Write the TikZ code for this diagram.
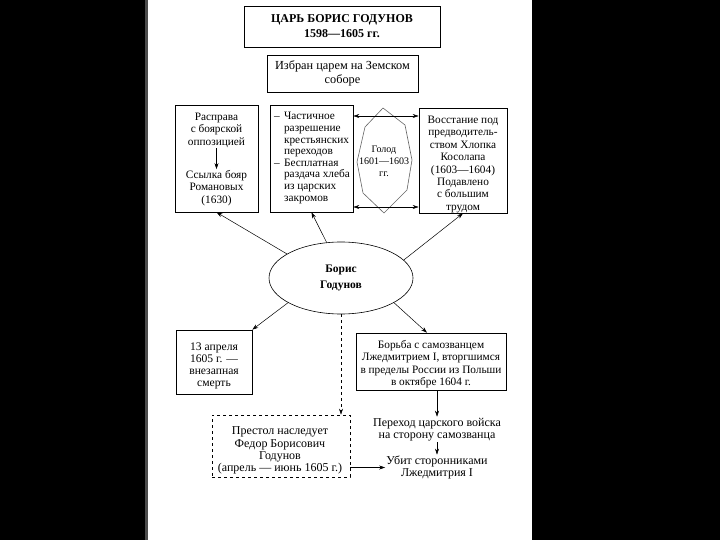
\documentclass[tikz,border=0pt]{standalone}
\usepackage{fontspec}
\setmainfont{Liberation Serif}
\usetikzlibrary{arrows.meta,shapes.geometric,calc}

\tikzset{
  box/.style={draw, line width=0.6pt, align=center, inner sep=2pt},
  tip/.style={-{Stealth[length=6pt,width=4pt]}, line width=0.5pt},
  twotip/.style={{Stealth[length=6pt,width=4pt]}-{Stealth[length=6pt,width=4pt]}, line width=0.5pt},
  txt/.style={align=center, inner sep=1pt},
}
\newcommand{\dashitem}{\makebox[11pt][l]{\kern1pt–}}
\newcommand{\hangitem}{\hspace*{11pt}}

\begin{document}
\begin{tikzpicture}[x=1pt, y=-1pt, font=\fontsize{11.3}{12.4}\selectfont]
    \useasboundingbox (0,0) rectangle (720,540);
    % Slide frame
    \fill[black] (0,0) rectangle (720,540);
    \fill[black!70] (145,0) rectangle (148,540);
    \fill[white] (148,0) rectangle (532,540);

    % Row 1: title and election
    \node[box, minimum width=196, minimum height=41, font=\fontsize{12}{15}\selectfont\bfseries] (title) at (342,26.5) {ЦАРЬ БОРИС ГОДУНОВ\\1598—1605 гг.};
    \node[box, minimum width=151, minimum height=37, font=\fontsize{12.3}{14}\selectfont] (elected) at (342.5,73.5) {Избран царем на Земском\\соборе};

    % Row 2: policy boxes
    \node[box, minimum width=83, minimum height=107] (repress) at (216.5,158.5) {};
    \node[txt] (purge) at (216.5,130) {Расправа\\с боярской\\оппозицией};
    \node[txt] (exile) at (216.5,188) {Ссылка бояр\\Романовых\\(1630)};
    \draw[tip] (purge) -- (exile);

    \node[box, minimum width=83, minimum height=107] (measures) at (311.5,158.5) {};
    \node[txt, align=left, font=\fontsize{11.3}{11.6}\selectfont] (measurestext) at (311.5,158)
        {\dashitem Частичное\\\hangitem разрешение\\\hangitem крестьянских\\\hangitem переходов\\
         \dashitem Бесплатная\\\hangitem раздача хлеба\\\hangitem из царских\\\hangitem закромов};

    % Famine shape
    \draw[black!60, line width=0.6pt] (383,108) -- (405,125) -- (412,160) -- (407,190) -- (384,213)
        -- (363,193) -- (357,162) -- (365,127) -- cycle;
    \node[txt, font=\fontsize{10}{12}\selectfont] (famine) at (384,161) {Голод\\1601—1603\\гг.};
    \coordinate (famtop) at (384,116);
    \coordinate (fambot) at (384,207);

    \node[box, minimum width=88, minimum height=105] (revolt) at (463,160.5) {};
    \node[txt] (revolttext) at (463,164.5)
        {Восстание под\\предводитель-\\ством Хлопка\\Косолапа\\(1603—1604)\\Подавлено\\с большим\\трудом};

    \draw[twotip] (measures.east |- famtop) -- (revolt.west |- famtop);
    \draw[twotip] (measures.east |- fambot) -- (revolt.west |- fambot);

    % Row 3: the tsar
    \node[draw, ellipse, line width=0.6pt, align=center, minimum width=144, minimum height=72, font=\fontsize{11.5}{15.5}\selectfont\bfseries] (boris) at (341,278) {Борис\\Годунов};

    \draw[tip] (boris.156) -- (repress.south);
    \draw[tip] (boris.112) -- (measures.south);
    \draw[tip] (boris.16) -- (revolt.south);

    % Row 4: death and the impostor
    \node[box, minimum width=76, minimum height=64] (death) at (214,362) {};
    \node[txt, font=\fontsize{11.6}{12}\selectfont] (deathtext) at (214,366) {13 апреля\\1605 г. —\\внезапная\\смерть};
    \node[box, minimum width=150, minimum height=57] (struggle) at (431,361.5) {};
    \node[txt] (struggletext) at (431,364)
        {Борьба с самозванцем\\Лжедмитрием I, вторгшимся\\в пределы России из Польши\\в октябре 1604 г.};

    \draw[tip] (boris.205) -- (death.north east);
    \draw[tip] (boris.335) -- ([xshift=-4pt]struggle.north);

    % Row 5: succession and the end
    \node[box, dashed, minimum width=138, minimum height=62] (heir) at (281,446) {};
    \node[txt, font=\fontsize{12}{12.3}\selectfont] (heirtext) at (280,450.5)
        {Престол наследует\\Федор Борисович\\Годунов\\(апрель — июнь 1605 г.)};
    \draw[tip, dashed] (boris.south) -- (boris.south |- heir.north);

    \node[txt, font=\fontsize{12}{12.3}\selectfont] (defect) at (437,429.5) {Переход царского войска\\на сторону самозванца};
    \node[txt, font=\fontsize{12}{12.3}\selectfont] (killed) at (437,467.5) {Убит сторонниками\\Лжедмитрия I};

    \draw[tip] (struggle.south -| defect.north) -- (defect.north);
    \draw[tip] (defect) -- (killed);
    \draw[tip] (heir.east |- killed.west) -- (killed.west);
\end{tikzpicture}
\end{document}
